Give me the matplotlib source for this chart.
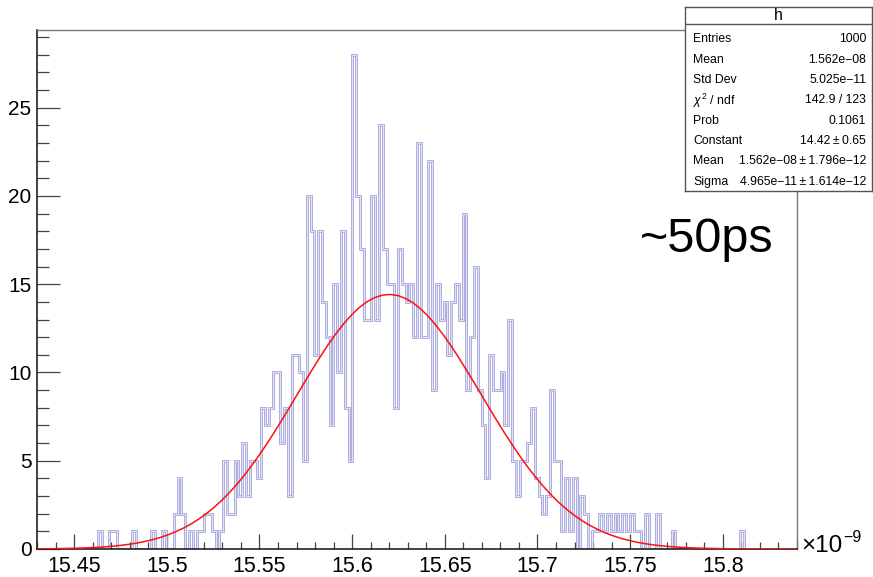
import numpy as np
import matplotlib
matplotlib.use('Agg')
import matplotlib.pyplot as plt
from matplotlib.ticker import MultipleLocator, FixedLocator

plt.rcParams['font.family'] = ['Liberation Sans', 'DejaVu Sans']
plt.rcParams['mathtext.fontset'] = 'custom'
plt.rcParams['mathtext.rm'] = 'Liberation Sans'
plt.rcParams['mathtext.it'] = 'Liberation Sans:italic'

# ---- data (time in units of 1e-9 s) ----
x_min, x_max, n_bins = 15.43, 15.84, 200
counts = [
    0, 0, 0, 0, 0, 0, 0, 0, 0, 0, 0, 0, 0, 0, 0, 0, 1, 0, 0, 1,
    1, 0, 0, 0, 0, 1, 0, 0, 0, 0, 1, 0, 0, 1, 0, 0, 2, 4, 2, 0,
    1, 0, 1, 1, 2, 2, 1, 0, 1, 5, 2, 2, 5, 3, 6, 3, 5, 5, 4, 8,
    7, 8, 10, 10, 6, 8, 3, 11, 11, 10, 5, 20, 18, 11, 18, 14, 12, 7, 15, 10,
    18, 8, 5, 28, 20, 17, 13, 13, 20, 13, 24, 17, 15, 15, 8, 17, 15, 14, 15, 12,
    23, 12, 12, 22, 9, 15, 13, 14, 11, 14, 15, 13, 19, 9, 12, 16, 9, 7, 4, 11,
    9, 9, 10, 7, 13, 5, 3, 5, 5, 6, 8, 4, 3, 2, 3, 9, 5, 5, 1, 4,
    1, 4, 0, 3, 2, 0, 1, 1, 2, 1, 2, 1, 2, 1, 2, 1, 2, 1, 1, 0,
    2, 0, 0, 2, 0, 0, 0, 1, 0, 0, 0, 0, 0, 0, 0, 0, 0, 0, 0, 0,
    0, 0, 0, 0, 0, 1, 0, 0, 0, 0, 0, 0, 0, 0, 0, 0, 0, 0, 0, 0,
]
fit_constant = 14.42
fit_mean = 15.62
fit_sigma = 0.04965

x_tick_values = [15.45, 15.5, 15.55, 15.6, 15.65, 15.7, 15.75, 15.8]
x_tick_labels = ['15.45', '15.5', '15.55', '15.6', '15.65', '15.7', '15.75', '15.8']
y_tick_values = [0, 5, 10, 15, 20, 25]

stats_title = 'h'
stats_labels = ['Entries', 'Mean', 'Std Dev', r'$\chi^{2}$ / ndf', 'Prob', 'Constant', 'Mean', 'Sigma']
stats_values = ['1000', '1.562e\u221208', '5.025e\u221211', '142.9 / 123', '0.1061',
                '14.42\u2009\u00b1\u20090.65', '1.562e\u221208\u2009\u00b1\u20091.796e\u221212',
                '4.965e\u221211\u2009\u00b1\u20091.614e\u221212']
annotation = '~50ps'

# ---- figure ----
W, H = 873, 577
fig = plt.figure(figsize=(W / 100, H / 100), dpi=100)
fig.patch.set_facecolor('white')

L, R, T, B = 37, 797, 30, 549
ax = fig.add_axes([L / W, 1 - B / H, (R - L) / W, (B - T) / H])

edges = np.linspace(x_min, x_max, n_bins + 1)
ax.stairs(counts, edges, baseline=0, color='#a6a6de', linewidth=2.0, zorder=2)
ax.stairs(counts, edges, baseline=0, color='#eeeefa', linewidth=0.6, zorder=2.1)

xf = np.linspace(x_min, x_max, 100)
yf = fit_constant * np.exp(-0.5 * ((xf - fit_mean) / fit_sigma) ** 2)
ax.plot(xf, yf, color='#ff1010', linewidth=1.1, zorder=3)

ymax = 1.05 * max(counts)
ax.set_xlim(x_min, x_max)
ax.set_ylim(0, ymax)

for s in ['top', 'right']:
    ax.spines[s].set_color('#777777')
    ax.spines[s].set_linewidth(1.0)
for s in ['left', 'bottom']:
    ax.spines[s].set_color('#222222')
    ax.spines[s].set_linewidth(1.2)

ax.xaxis.set_major_locator(FixedLocator(x_tick_values))
ax.set_xticklabels(x_tick_labels)
ax.xaxis.set_minor_locator(MultipleLocator(0.01))
ax.yaxis.set_major_locator(FixedLocator(y_tick_values))
ax.yaxis.set_minor_locator(MultipleLocator(1))

ax.tick_params(axis='x', which='major', direction='in', length=10.5, width=0.9,
               color='#444444', labelsize=15.5, pad=5, top=False)
ax.tick_params(axis='x', which='minor', direction='in', length=5.3, width=0.9,
               color='#444444', top=False)
ax.tick_params(axis='y', which='major', direction='in', length=16.5, width=0.9,
               color='#444444', labelsize=15, pad=4, right=False)
ax.tick_params(axis='y', which='minor', direction='in', length=8.3, width=0.9,
               color='#444444', right=False)

fig.text(801 / W, 1 - 546 / H, '\u00d710', fontsize=17.5, ha='left', va='center')
fig.text(843 / W, 1 - 538 / H, '\u22129', fontsize=11.5, ha='left', va='center')

fig.text(640 / W, 1 - 240 / H, annotation, fontsize=35, ha='left', va='center')

# ---- stats box ----
bx0, by0, bx1, by1 = 685, 7, 872, 191
box = fig.add_axes([bx0 / W, 1 - by1 / H, (bx1 - bx0) / W, (by1 - by0) / H])
box.set_xticks([])
box.set_yticks([])
box.set_xlim(0, 1)
box.set_ylim(0, 1)
box.patch.set_facecolor('white')
for s in box.spines.values():
    s.set_color('#555555')
    s.set_linewidth(1.0)
sep_y = 1 - (24 - by0) / (by1 - by0)
box.plot([0, 1], [sep_y, sep_y], color='#555555', linewidth=1.0)

fig.text((bx0 + bx1) / 2 / W, 1 - 15 / H, stats_title, fontsize=11.5, ha='center', va='center')
for i, (lab, val) in enumerate(zip(stats_labels, stats_values)):
    yy = 39.5 + 20.3 * i
    fig.text(693 / W, 1 - yy / H, lab, fontsize=8.8, ha='left', va='center')
    fig.text(866 / W, 1 - yy / H, val, fontsize=8.8, ha='right', va='center')

fig.savefig('out.png', dpi=100, facecolor='white')
